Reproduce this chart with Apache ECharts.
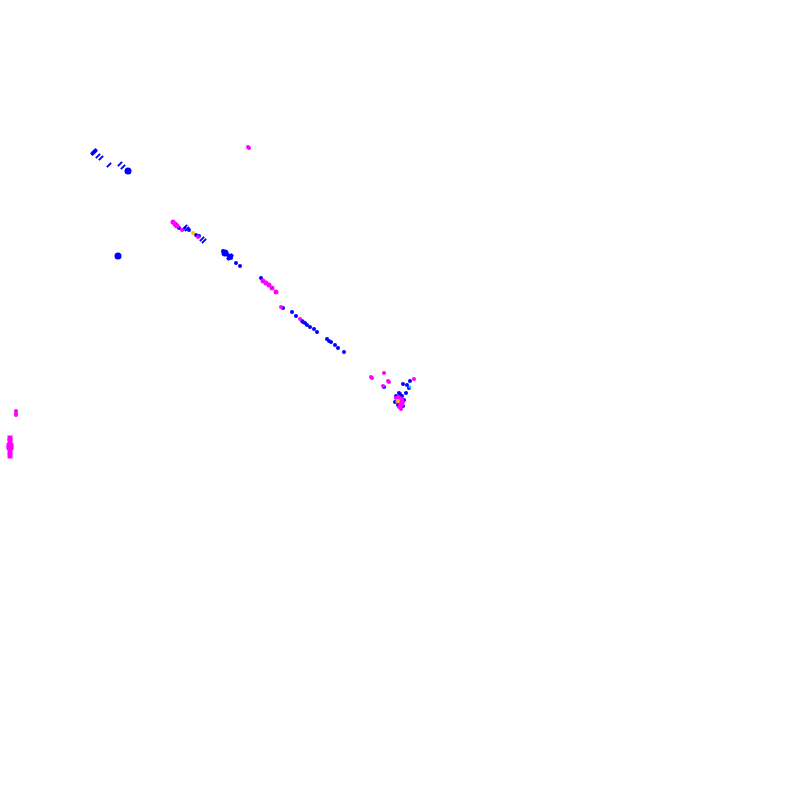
<!DOCTYPE html>
<html><head><meta charset="utf-8">
<script src="https://cdn.jsdelivr.net/npm/echarts@6/dist/echarts.min.js"></script>
<style>html,body{margin:0;padding:0;background:#fff}#c{width:800px;height:800px}</style>
</head><body><div id="c"></div>
<script>
// points as [x, y] in the chart's plotting units
const blueStrokes = [[98,156],[101,158],[109,165],[120,164],[123,167],[185,227],[187,229],[202,239],[204,241],[184,229]];
const blueBars = [[94,152],[230,257]];
const blueBlobs = [[128,171],[118,256],[225,253]];
const blueDots = [[179,228],[189,230],[196,235],[199,236],
  [223,251],[228,255],[231,258],[226,254],[236,263],[240,266],[261,278],
  [283,308],[292,312],[296,316],[302,321],[303,322],[305,323],[307,325],[310,327],[314,329],[317,332],
  [327,339],[329,341],[331,342],[335,345],[338,348],[344,352],
  [384,387],[403,384],[410,381],[407,385],[409,388],[400,394],[406,393],[396,396],
  [395,402],[402,396],[404,400],[398,405],[403,406],[399,393]];
const magentaStreak = [[173,222],[175,224],[177,226],[176,225],[263,281],[266,283],[269,285],[272,288],[276,292]];
const magentaDots = [[248,147],[249,148],[182,230],[198,237],[281,307],[300,319],
  [371,377],[372,378],[384,373],[388,381],[389,382],[414,379],[383,386],
  [396,398],[398,397],[400,398],[402,399],[399,400],[401,401],[397,402],[403,402],[400,404],[402,405],[399,407],[401,409],
  [16,411],[16,413],[16,415]];
const magentaBlob = [[10,438],[10,441],[10,452],[10,456]];
const magentaBlobWide = [[10,445],[10,448]];
const goldDots = [[193,233],[398,401]];
const cyanDots = [[410,387]];

const chart = echarts.init(document.getElementById('c'));
chart.setOption({
  animation: false,
  grid: {left: 0, right: 0, top: 0, bottom: 0},
  xAxis: {type: 'value', min: 0, max: 800, show: false},
  yAxis: {type: 'value', min: 0, max: 800, inverse: true, show: false},
  series: [
    {type: 'scatter', data: blueStrokes, symbol: 'rect', symbolSize: [2, 6], symbolRotate: -45, itemStyle: {color: '#0000ff', opacity: 1}},
    {type: 'scatter', data: blueBars, symbol: 'roundRect', symbolSize: [4, 8], symbolRotate: -45, itemStyle: {color: '#0000ff', opacity: 1}},
    {type: 'scatter', data: blueBlobs, symbol: 'circle', symbolSize: 7, itemStyle: {color: '#0000ff', opacity: 1}},
    {type: 'scatter', data: blueDots, symbol: 'circle', symbolSize: 4, itemStyle: {color: '#0000ff', opacity: 1}},
    {type: 'scatter', data: magentaStreak, symbol: 'circle', symbolSize: 5, itemStyle: {color: '#ff00ff', opacity: 1}},
    {type: 'scatter', data: magentaDots, symbol: 'circle', symbolSize: 4, itemStyle: {color: '#ff00ff', opacity: 1}},
    {type: 'scatter', data: magentaBlob, symbol: 'rect', symbolSize: [5, 5], itemStyle: {color: '#ff00ff', opacity: 1}},
    {type: 'scatter', data: magentaBlobWide, symbol: 'rect', symbolSize: [7, 4], itemStyle: {color: '#ff00ff', opacity: 1}},
    {type: 'scatter', data: goldDots, symbol: 'circle', symbolSize: 4, itemStyle: {color: '#ffc000', opacity: 1}},
    {type: 'scatter', data: cyanDots, symbol: 'circle', symbolSize: 3, itemStyle: {color: '#00e0ff', opacity: 1}}
  ]
});
</script></body></html>
